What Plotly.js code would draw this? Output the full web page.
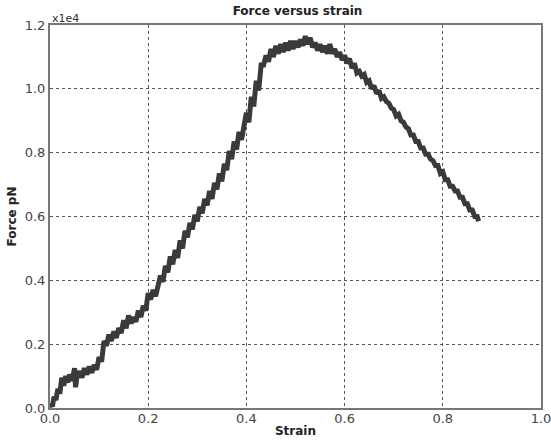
<!DOCTYPE html>
<html><head><meta charset="utf-8">
<script src="https://cdn.plot.ly/plotly-3.0.1.min.js"></script>
<style>html,body{margin:0;padding:0;background:#fff}#plot{width:551px;height:442px}</style>
</head><body><div id="plot"></div>
<script>
// Strain (dimensionless) and force (pN)
const strain = [
0.000,0.005,0.008,0.012,0.016,0.020,0.024,0.028,0.032,0.036,0.040,0.045,0.050,0.052,0.055,0.060,0.065,0.070,0.075,0.080,0.085,0.090,0.095,
0.100,0.105,0.110,0.115,0.120,0.125,0.130,0.135,0.140,0.145,0.150,0.155,0.160,0.165,0.170,0.175,0.180,0.185,0.190,0.195,
0.200,0.205,0.210,0.215,0.220,0.225,0.230,0.235,0.240,0.245,0.250,0.255,0.260,0.265,0.270,0.275,0.280,0.285,0.290,0.295,
0.300,0.305,0.310,0.315,0.320,0.325,0.330,0.335,0.340,0.345,0.350,0.355,0.360,0.365,0.370,0.375,0.380,0.385,0.390,0.395,
0.400,0.405,0.410,0.415,0.420,0.425,0.430,0.435,0.440,0.445,0.450,0.455,0.460,0.465,0.470,0.475,0.480,0.485,0.490,0.495,
0.500,0.505,0.510,0.515,0.520,0.525,0.530,0.535,0.540,0.545,0.550,0.555,0.560,0.565,0.570,0.575,0.580,0.585,0.590,0.595,
0.600,0.605,0.610,0.615,0.620,0.625,0.630,0.635,0.640,0.645,0.650,0.655,0.660,0.665,0.670,0.675,0.680,0.685,0.690,0.695,
0.700,0.705,0.710,0.715,0.720,0.725,0.730,0.735,0.740,0.745,0.750,0.755,0.760,0.765,0.770,0.775,0.780,0.785,0.790,0.795,
0.800,0.805,0.810,0.815,0.820,0.825,0.830,0.835,0.840,0.845,0.850,0.855,0.860,0.865,0.870,0.873
];
const force = [
150,50,350,250,600,450,950,700,1000,800,1050,850,1250,650,1000,1150,950,1250,1050,1300,1100,1350,1200,
1600,1450,2100,1950,2300,2100,2400,2200,2500,2350,2750,2500,2900,2650,2850,2700,3050,2850,3200,3050,
3600,3400,3700,3500,3900,4150,3950,4450,4250,4750,4500,4950,4700,5250,5000,5550,5350,5800,5600,6050,
5850,6300,6100,6550,6350,6800,6550,7050,6850,7350,7100,7650,7450,8050,7800,8350,8100,8650,8400,8950,
9250,8950,9750,9450,10250,9950,10750,10750,11050,10850,11250,11000,11350,11100,11400,11150,11450,11200,11500,11250,
11500,11300,11550,11350,11650,11400,11600,11300,11450,11200,11400,11150,11350,11100,11400,11100,11250,11000,11150,10900,
11050,10800,10950,10650,10800,10500,10550,10400,10450,10200,10250,10000,10100,9850,9950,9700,9750,9600,9550,9400,
9350,9150,9200,9000,8950,8800,8750,8550,8550,8350,8350,8150,8150,7950,7950,7800,7750,7600,7600,7350,
7400,7150,7150,6950,6950,6800,6800,6600,6600,6400,6400,6200,6200,6000,6000,5850
];
const xTicks = [0, 0.2, 0.4, 0.6, 0.8, 1.0];
const xTickText = ['0.0','0.2','0.4','0.6','0.8','1.0'];
const yTicks = [0, 2000, 4000, 6000, 8000, 10000, 12000];
const yTickText = ['0.0','0.2','0.4','0.6','0.8','1.0','1.2'];

const trace = {
  x: strain, y: force, type: 'scatter', mode: 'lines',
  line: {color: '#3a3a3a', width: 5}, hoverinfo: 'skip'
};
const tickFont = {family: 'DejaVu Sans', size: 13, color: '#444'};
const layout = {
  width: 551, height: 442,
  margin: {l: 50, r: 10, t: 25, b: 34},
  paper_bgcolor: '#fff', plot_bgcolor: '#fff',
  showlegend: false,
  title: {text: '<b>Force versus strain</b>', font: {family: 'DejaVu Sans', size: 12, color: '#222'},
          x: 0.54, xanchor: 'center', y: 0.985, yanchor: 'top'},
  xaxis: {
    range: [0, 1], tickvals: xTicks, ticktext: xTickText, tickfont: tickFont,
    ticklabeloverflow: 'allow', ticklabelstandoff: -3,
    showgrid: true, gridcolor: '#555', griddash: 'dot', gridwidth: 1,
    showline: true, linecolor: '#777', linewidth: 2, mirror: true,
    ticks: '', zeroline: false,
    title: {text: '<b>Strain</b>', font: {family: 'DejaVu Sans', size: 12, color: '#222'}, standoff: 2}
  },
  yaxis: {
    range: [0, 12000], tickvals: yTicks, ticktext: yTickText, tickfont: tickFont,
    ticklabeloverflow: 'allow',
    showgrid: true, gridcolor: '#555', griddash: 'dot', gridwidth: 1,
    showline: true, linecolor: '#777', linewidth: 2, mirror: true,
    ticks: '', zeroline: false,
    title: {text: '<b>Force pN</b>', font: {family: 'DejaVu Sans', size: 12, color: '#222'}, standoff: 6}
  },
  annotations: [{
    text: 'x1e4', xref: 'paper', yref: 'paper', x: 0, y: 1, xanchor: 'left', yanchor: 'bottom',
    showarrow: false, font: {family: 'DejaVu Sans', size: 11, color: '#333'}, yshift: -2
  }]
};
Plotly.newPlot('plot', [trace], layout, {displayModeBar: false, staticPlot: true});
</script></body></html>
